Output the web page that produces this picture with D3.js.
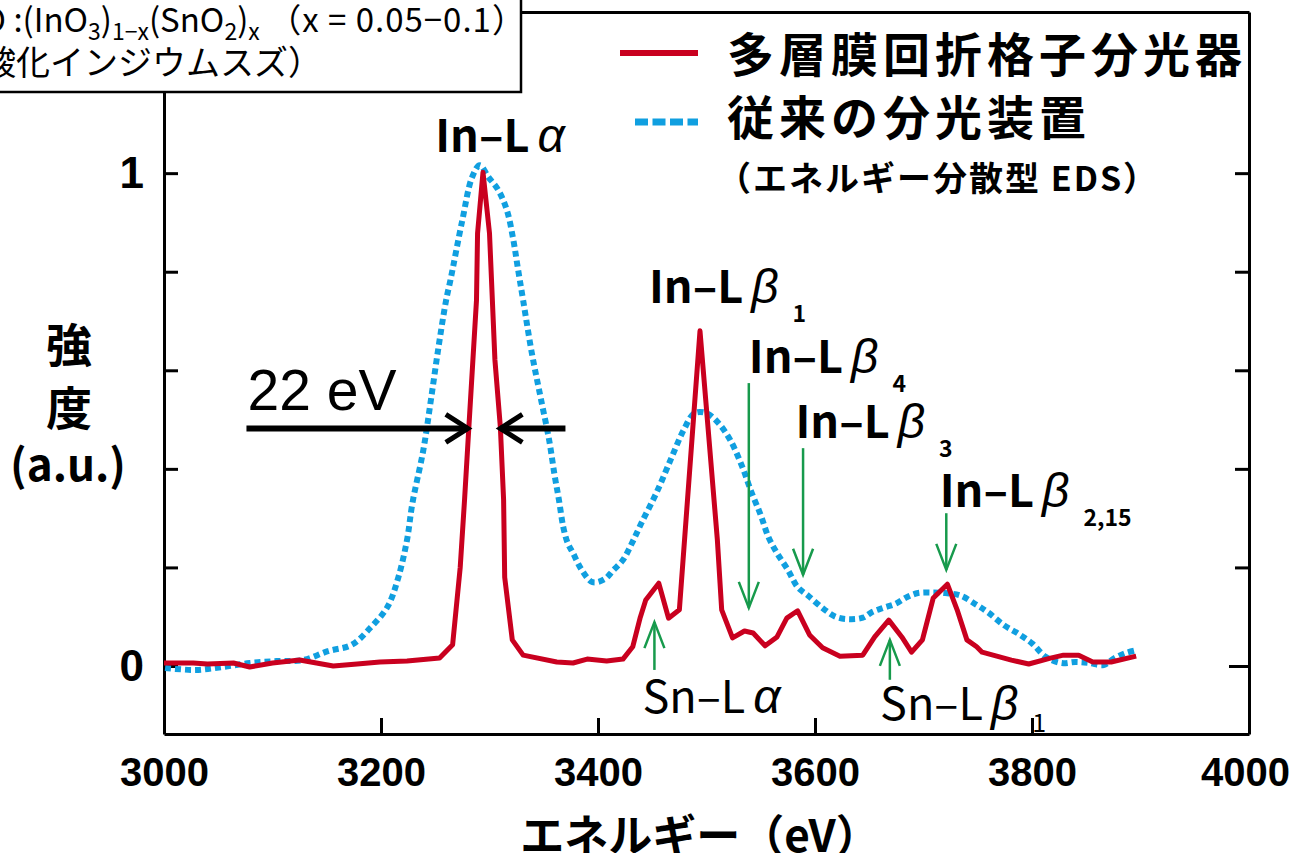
<!DOCTYPE html>
<html>
<head>
<meta charset="utf-8">
<script src="https://cdn.jsdelivr.net/npm/d3@7"></script>
<style>
  body { margin: 0; background: #fff; }
  svg { display: block; }
</style>
</head>
<body>
<div id="chart"></div>
<script>
// Multilayer grating spectrometer (red, solid)
const redEnergy = [3000, 3027, 3040, 3064, 3079, 3100, 3125, 3156, 3178, 3199, 3224, 3254, 3266, 3273, 3277, 3281, 3288, 3289, 3294, 3300, 3305, 3310, 3313, 3314, 3321, 3331, 3362, 3377, 3390, 3408, 3423, 3432, 3439, 3444, 3456, 3465, 3475, 3494, 3510, 3514, 3524, 3535, 3543, 3554, 3565, 3574, 3584, 3595, 3607, 3623, 3644, 3655, 3668, 3680, 3689, 3699, 3709, 3722, 3731, 3740, 3749, 3754, 3781, 3797, 3817, 3829, 3843, 3856, 3873, 3896];
const redIntensity = [0.006, 0.006, 0.004, 0.006, -0.002, 0.006, 0.012, 0.000, 0.004, 0.008, 0.010, 0.016, 0.043, 0.200, 0.337, 0.485, 0.742, 0.878, 1.002, 0.878, 0.621, 0.485, 0.337, 0.180, 0.053, 0.022, 0.008, 0.006, 0.014, 0.010, 0.014, 0.039, 0.099, 0.134, 0.168, 0.097, 0.114, 0.680, 0.256, 0.114, 0.057, 0.071, 0.067, 0.041, 0.059, 0.097, 0.112, 0.063, 0.037, 0.020, 0.022, 0.059, 0.093, 0.059, 0.028, 0.053, 0.138, 0.166, 0.114, 0.053, 0.039, 0.028, 0.012, 0.004, 0.016, 0.022, 0.022, 0.008, 0.008, 0.020];

// Conventional EDS (blue, dotted)
const blueEnergy = [3001, 3029, 3054, 3079, 3104, 3128, 3151, 3173, 3190, 3206, 3216, 3224, 3229, 3239, 3246, 3253, 3260, 3264, 3275, 3284, 3291, 3299, 3308, 3316, 3322, 3326, 3331, 3339, 3347, 3355, 3360, 3364, 3368, 3372, 3377, 3385, 3395, 3406, 3414, 3423, 3431, 3440, 3454, 3468, 3479, 3489, 3500, 3511, 3522, 3533, 3541, 3550, 3557, 3565, 3575, 3584, 3594, 3609, 3620, 3632, 3644, 3653, 3663, 3674, 3685, 3695, 3708, 3720, 3734, 3749, 3760, 3774, 3787, 3800, 3813, 3827, 3840, 3853, 3866, 3876, 3886, 3896];
const blueIntensity = [-0.004, -0.008, -0.002, 0.006, 0.010, 0.012, 0.030, 0.043, 0.077, 0.120, 0.180, 0.256, 0.331, 0.438, 0.540, 0.647, 0.742, 0.783, 0.905, 0.992, 1.016, 0.992, 0.966, 0.925, 0.864, 0.809, 0.742, 0.635, 0.546, 0.458, 0.387, 0.337, 0.282, 0.250, 0.229, 0.195, 0.170, 0.176, 0.194, 0.215, 0.248, 0.290, 0.352, 0.424, 0.479, 0.513, 0.513, 0.493, 0.458, 0.404, 0.355, 0.306, 0.262, 0.229, 0.195, 0.160, 0.142, 0.114, 0.099, 0.095, 0.098, 0.110, 0.118, 0.126, 0.140, 0.148, 0.149, 0.148, 0.143, 0.124, 0.108, 0.083, 0.066, 0.046, 0.018, 0.006, 0.008, 0.006, 0.002, 0.016, 0.026, 0.032];

const xTicks = [3000, 3200, 3400, 3600, 3800, 4000];
const yTicks = [0, 0.2, 0.4, 0.6, 0.8, 1];
const yTickLabels = ["0", "", "", "", "", "1"];

const legendLabels = ["多層膜回折格子分光器", "従来の分光装置", "（エネルギー分散型 EDS）"];

// peak names: energy / intensity of the label's left baseline point
const peakLabels = [
  { main: "In–L", greek: "α", sub: "", e: 3250, v: 1.043, bold: true },
  { main: "In–L", greek: "β", sub: "1", e: 3447, v: 0.736, bold: true },
  { main: "In–L", greek: "β", sub: "4", e: 3539, v: 0.594, bold: true },
  { main: "In–L", greek: "β", sub: "3", e: 3582, v: 0.462, bold: true },
  { main: "In–L", greek: "β", sub: "2,15", e: 3715, v: 0.322, bold: true },
  { main: "Sn–L", greek: "α", sub: "", e: 3441, v: -0.095, bold: false },
  { main: "Sn–L", greek: "β", sub: "1", e: 3660, v: -0.110, bold: false, subDy: 12 }
];

// green marker arrows: energy, tail intensity, tip intensity
const peakArrows = [
  { e: 3539, from: 0.574, to: 0.118 },
  { e: 3589, from: 0.442, to: 0.185 },
  { e: 3721, from: 0.310, to: 0.195 },
  { e: 3452, from: -0.008, to: 0.089 },
  { e: 3669, from: -0.028, to: 0.053 }
];

// FWHM arrows
const fwhmArrows = [
  { from: 3076, to: 3280, v: 0.482 },
  { from: 3370, to: 3310, v: 0.482 }
];

const width = 1294;
const height = 853;
const jp = "'Noto Sans CJK JP', 'Noto Sans', sans-serif";
const red = "#c9001f";
const blue = "#109fe0";
const green = "#179a4c";

const svg = d3.select("#chart").append("svg")
  .attr("width", width)
  .attr("height", height);

const x = d3.scaleLinear().domain([3000, 4000]).range([164, 1249]);
const y = d3.scaleLinear().domain([-0.138, 1.327]).range([734, 12]);

// Axes / frame
const xAxis = d3.axisBottom(x)
  .tickValues(xTicks)
  .tickSizeInner(-16)
  .tickSizeOuter(0)
  .tickPadding(24)
  .tickFormat(d3.format("d"));

const gx = svg.append("g")
  .attr("transform", `translate(0, ${y.range()[0]})`)
  .call(xAxis);
gx.selectAll("text")
  .attr("font-family", "'Liberation Sans', Arial, sans-serif")
  .attr("font-weight", "bold")
  .attr("font-size", 40)
  .attr("fill", "#000");
gx.selectAll(".tick").filter((d) => d === 4000).select("text").attr("dx", -4);

const yAxis = d3.axisLeft(y)
  .tickValues(yTicks)
  .tickSizeInner(-14)
  .tickSizeOuter(0)
  .tickPadding(20)
  .tickFormat((d, i) => yTickLabels[i]);

const gy = svg.append("g")
  .attr("transform", `translate(${x.range()[0]}, 0)`)
  .call(yAxis);
gy.selectAll("text")
  .attr("font-family", "'Liberation Sans', Arial, sans-serif")
  .attr("font-weight", "bold")
  .attr("font-size", 44)
  .attr("fill", "#000");

const gr = svg.append("g")
  .attr("transform", `translate(${x.range()[1]}, 0)`)
  .call(d3.axisRight(y).tickValues(yTicks).tickSizeInner(-14).tickSizeOuter(0).tickFormat(""));
gr.selectAll(".tick line").attr("x2", (d) => (d === 0 ? -20 : -14));

svg.append("g")
  .attr("transform", `translate(0, ${y.range()[1]})`)
  .call(d3.axisTop(x).tickValues([]).tickSizeOuter(0));

svg.selectAll(".domain").attr("stroke", "#000").attr("stroke-width", 3);
svg.selectAll(".tick line").attr("stroke", "#000").attr("stroke-width", 3);

// Curves
const redData = redEnergy.map((e, i) => [e, redIntensity[i]]);
const blueData = blueEnergy.map((e, i) => [e, blueIntensity[i]]);

svg.append("path")
  .datum(blueData)
  .attr("fill", "none")
  .attr("stroke", blue)
  .attr("stroke-width", 6)
  .attr("stroke-dasharray", "6 4")
  .attr("d", d3.line().x((d) => x(d[0])).y((d) => y(d[1])).curve(d3.curveCatmullRom.alpha(0.5)));

svg.append("path")
  .datum(redData)
  .attr("fill", "none")
  .attr("stroke", red)
  .attr("stroke-width", 5)
  .attr("stroke-linejoin", "round")
  .attr("d", d3.line().x((d) => x(d[0])).y((d) => y(d[1])));

// Green arrows
const arrowG = svg.append("g")
  .attr("stroke", green)
  .attr("stroke-width", 2.5)
  .attr("fill", "none");

peakArrows.forEach((a) => {
  const px = x(a.e);
  const y0 = y(a.from);
  const y1 = y(a.to);
  const dir = y1 > y0 ? -1 : 1; // arms go back towards tail
  arrowG.append("line").attr("x1", px).attr("x2", px).attr("y1", y0).attr("y2", y1);
  arrowG.append("path")
    .attr("d", `M${px - 10},${y1 + dir * 26}L${px},${y1}L${px + 10},${y1 + dir * 26}`);
});

// FWHM arrows
const fwhmG = svg.append("g")
  .attr("stroke", "#000")
  .attr("fill", "none")
  .attr("stroke-linejoin", "miter");

fwhmArrows.forEach((a) => {
  const x0 = x(a.from);
  const x1 = x(a.to);
  const py = y(a.v);
  const dir = x1 > x0 ? -1 : 1;
  fwhmG.append("line").attr("x1", x0).attr("x2", x1).attr("y1", py).attr("y2", py).attr("stroke-width", 6);
  fwhmG.append("path")
    .attr("stroke-width", 5)
    .attr("d", `M${x1 + dir * 22},${py - 14}L${x1},${py}L${x1 + dir * 22},${py + 14}`);
});

svg.append("text")
  .attr("x", x(3077))
  .attr("y", y(0.519))
  .attr("font-family", "'Liberation Sans', Arial, sans-serif")
  .attr("font-size", 57)
  .attr("fill", "#000")
  .text("22 eV");

// Peak labels
peakLabels.forEach((p) => {
  const t = svg.append("text")
    .attr("x", x(p.e))
    .attr("y", y(p.v))
    .attr("font-family", jp)
    .attr("font-size", 45)
    .attr("font-weight", p.bold ? "bold" : "normal")
    .attr("fill", "#000");
  t.append("tspan").text(p.main);
  t.append("tspan")
    .attr("dx", 8)
    .attr("font-family", "'Liberation Sans', Arial, sans-serif")
    .attr("font-style", "italic")
    .attr("font-weight", "normal")
    .attr("font-size", 48)
    .text(p.greek);
  if (p.sub) {
    t.append("tspan")
      .attr("dx", 14)
      .attr("dy", p.subDy || 19)
      .attr("font-size", p.subDy ? 25 : 23)
      .text(p.sub);
  }
});

// Axis titles
svg.append("text")
  .attr("x", 700)
  .attr("y", 852)
  .attr("text-anchor", "middle")
  .attr("font-family", jp)
  .attr("font-weight", "bold")
  .attr("font-size", 44)
  .text("エネルギー（eV）");

const yTitle = svg.append("g")
  .attr("font-family", jp)
  .attr("font-weight", "bold")
  .attr("text-anchor", "middle");
yTitle.append("text").attr("x", 69).attr("y", 362).attr("font-size", 46).text("強");
yTitle.append("text").attr("x", 69).attr("y", 425).attr("font-size", 46).text("度");
yTitle.append("text").attr("x", 68).attr("y", 481).attr("font-size", 44).text("(a.u.)");

// Legend
const legend = svg.append("g").attr("font-family", jp).attr("font-weight", "bold");
legend.append("line")
  .attr("x1", 620).attr("x2", 698).attr("y1", 53).attr("y2", 53)
  .attr("stroke", red).attr("stroke-width", 6);
legend.append("line")
  .attr("x1", 635).attr("x2", 698).attr("y1", 122).attr("y2", 122)
  .attr("stroke", blue).attr("stroke-width", 7).attr("stroke-dasharray", "13 4.5");
legend.append("text").attr("x", 727).attr("y", 72).attr("font-size", 47)
  .attr("letter-spacing", 5).text(legendLabels[0]);
legend.append("text").attr("x", 727).attr("y", 135).attr("font-size", 47)
  .attr("letter-spacing", 5).text(legendLabels[1]);
legend.append("text").attr("x", 717).attr("y", 191).attr("font-size", 34)
  .attr("letter-spacing", 2).text(legendLabels[2]);

// Sample box (top-left, partly cut off)
const box = svg.append("g");
box.append("rect")
  .attr("x", -6).attr("y", -6).attr("width", 527).attr("height", 98)
  .attr("fill", "#fff").attr("stroke", "#000").attr("stroke-width", 2.5);

const line1 = box.append("text")
  .attr("y", 32)
  .attr("font-family", jp)
  .attr("font-size", 33)
  .attr("fill", "#000");
const ito = line1.append("tspan").text("ITO");
line1.append("tspan").text(" :(InO");
line1.append("tspan").attr("dy", 8).attr("font-size", 23).text("3");
line1.append("tspan").attr("dy", -8).text(")");
line1.append("tspan").attr("dy", 8).attr("font-size", 23).text("1−x");
line1.append("tspan").attr("dy", -8).text("(SnO");
line1.append("tspan").attr("dy", 8).attr("font-size", 23).text("2");
line1.append("tspan").attr("dy", -8).text(")");
line1.append("tspan").attr("dy", 8).attr("font-size", 23).text("x");
line1.append("tspan").attr("dy", -8).attr("letter-spacing", 1).text(" （x = 0.05−0.1）");
line1.attr("x", 6 - ito.node().getComputedTextLength());

box.append("text")
  .attr("x", -52)
  .attr("y", 75)
  .attr("font-family", jp)
  .attr("font-size", 34)
  .attr("fill", "#000")
  .text("（酸化インジウムスズ）");
</script>
</body>
</html>
